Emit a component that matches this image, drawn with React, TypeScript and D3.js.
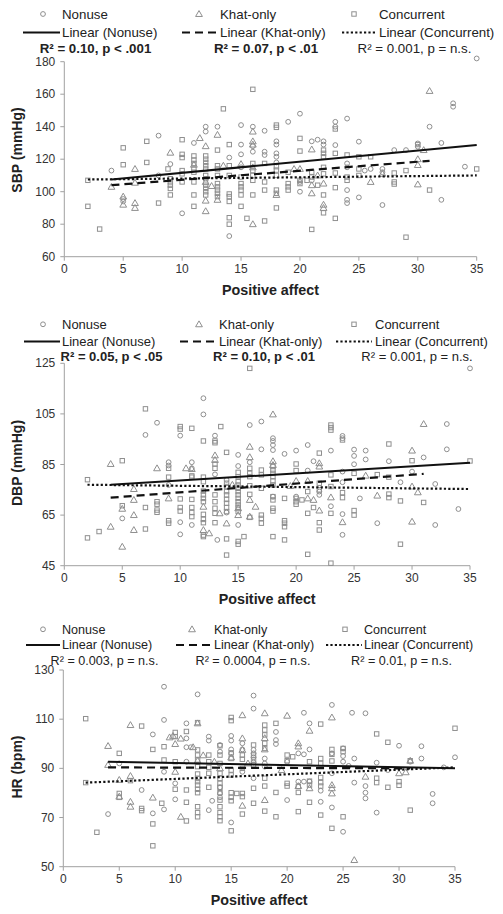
import React from 'react';
import * as d3 from 'd3';

type Pt = [number, number];

// ---------- shared axis / legend data ----------
const xTicks = [0, 5, 10, 15, 20, 25, 30, 35];
const sbpTicks = [60, 80, 100, 120, 140, 160, 180];
const dbpTicks = [45, 65, 85, 105, 125];
const hrTicks = [50, 70, 90, 110, 130];
const groupNames = ['Nonuse', 'Khat-only', 'Concurrent'];
const fitNames = ['Linear (Nonuse)', 'Linear (Khat-only)', 'Linear (Concurrent)'];
const sbpStats = ['R\u00B2 = 0.10, p < .001', 'R\u00B2 = 0.07, p < .01', 'R\u00B2 = 0.001, p = n.s.'];
const sbpStatBold = [true, true, false];
const dbpStats = ['R\u00B2 = 0.05, p < .05', 'R\u00B2 = 0.10, p < .01', 'R\u00B2 = 0.001, p = n.s.'];
const dbpStatBold = [true, true, false];
const hrStats = ['R\u00B2 = 0.003, p = n.s.', 'R\u00B2 = 0.0004, p = n.s.', 'R\u00B2 = 0.01, p = n.s.'];
const hrStatBold = [false, false, false];

// ---------- SBP ----------
const sbpNonuse: Pt[] = [[4,113],[5,95.5],[5,94],[8,134.5],[8,110],[9,117],[10,86.7],[11,130],[12,140],[12,137],[13,140],[14,121],[14,72.7],[15,141],[15,129],[15,123],[15,115],[16,140],[16,128],[16,124.6],[17,137.5],[17,124.6],[17,122.6],[18,131],[18,129],[18,123.6],[18,121.5],[18,118],[19,143],[20,148],[20,106],[20,100],[21,131],[21,107],[21.5,132],[22,131],[22,129],[23,143],[23,140],[23,128.7],[24,145],[24,117.4],[24,115],[24,101],[24,95],[24,93],[25,130.8],[25,96.5],[25.5,113],[26,114],[27,114],[27,112],[27,91.8],[28,125.6],[29,125.6],[30,129.7],[30,127.7],[31,140],[32,130],[32,95],[33,154.4],[33,152.3],[34,115.4],[35,182]];
const sbpKhat: Pt[] = [[4,103],[5,97],[5,92],[6,114],[6,105.5],[6,93],[6,90],[9,124],[11,116.6],[11.5,133],[12,128],[12,106],[12,94.5],[12,88],[12.5,103.5],[13,135],[13,95],[13.5,116],[15,117],[16,137],[16,131],[16,129],[16,115],[16,80],[18,98],[19.5,114],[20,114],[21,126],[21,104],[21,99],[21.5,110],[22,105],[22,92],[22,90],[26,106],[27,111],[30,120],[30,116.4],[30,104.5],[30.5,125.6],[31,162]];
const sbpConcurrent: Pt[] = [[2,107],[2,91],[3,77],[5,127],[5,116.6],[7,131],[7,118],[8,93],[8.8,114],[9,108],[9,106],[9,104],[9,102],[9,98],[10,132],[10,123],[10,121],[10,113],[10,111],[10,106],[11,122],[11,119.5],[11,117.4],[11,114],[11,112],[11,106],[11,98],[11,91],[12,122],[12,120],[12,118],[12,116],[12,114],[12,110],[12,108],[12,104],[12,102],[12,100],[12,98],[13,125.6],[13,116],[13,114],[13,110],[13,105],[13,103],[13,101],[13,99],[13,97],[13.5,151],[14,129],[14,116],[14,110],[14,98.6],[14,97],[14,94],[14,84],[14,80],[15,109],[15,105],[15,103],[15,101],[15,98],[15,91],[15.5,83.6],[16,163],[16,117.4],[16,113],[16,110],[16,107],[16,98],[17,117.4],[17,106],[17,101],[17,82],[18,141],[18,139.6],[18,115.4],[18,113.3],[18,110],[18,101],[18,99],[18,90],[19,112],[19,105],[19,103],[19,101],[20,132.8],[20,125],[20,107],[20,105],[20.6,107],[21,112],[21,109],[21,76.8],[21.5,104],[22,125.6],[22,123.6],[22,121.5],[22,115],[22,111],[22,98],[22,87],[23,138.6],[23,123.6],[23,111.5],[23,102.5],[23,83.6],[24,122.6],[24,109],[24,107],[25,121.5],[25,114],[25,110],[26,121.5],[28,111.5],[28,106],[28,104.7],[29,113],[29,72],[30,129],[31,101],[35,114]];
const sbpFitNonuse: Pt[] = [[4,107.5],[35,128.7]];
const sbpFitKhat: Pt[] = [[4,104],[31,119]];
const sbpFitConcurrent: Pt[] = [[2,107.5],[35,110]];

// ---------- DBP ----------
const dbpNonuse: Pt[] = [[5,63.7],[7,96.7],[8,101.5],[9,85.9],[9,84.6],[9,76.9],[10,96.4],[10,62.2],[10,57.4],[11,85.9],[11,83.5],[11,61.1],[12,111.2],[12,104.8],[13,96.4],[13,81.1],[13.2,55.2],[14,78.9],[14,66],[15,88.8],[15,84.4],[15,61.1],[16,100.6],[16,85.9],[17,102],[17,91],[18,95.4],[18,94.3],[18,92.7],[18,90.7],[18,72.3],[19,89.2],[20,90.5],[20,72.3],[21,92.7],[21,82.6],[21.5,86.3],[22,74.3],[22,73],[23,90.5],[23,68.5],[24,96.3],[24,95.4],[24,82.2],[24,78],[24,65.4],[24,57.2],[25,90.9],[25,88.4],[25,85.1],[25.5,71.6],[26,90.5],[26,87],[27,61.8],[28,86.3],[29,78],[30,82.2],[31,87.8],[32,77.3],[32,61.1],[33,101],[33,91],[34,67.4],[35,123]];
const dbpKhat: Pt[] = [[4,85.2],[4,60.4],[5,67.5],[5,52.5],[6,75.3],[6,71],[6,65],[6,59.1],[8,83.5],[9,71.6],[10.5,83.5],[11,83.2],[12,68.3],[12,59.1],[12.5,57.8],[13,88.6],[13,86.8],[13.4,65.7],[14,61.7],[14.5,77],[15,67.7],[15,65],[16,92],[16,87.9],[16,71],[16,64.4],[16.5,68.3],[18,104.8],[18,86.3],[18,84.8],[19.5,76.5],[20,78.5],[21,78.5],[21,71.6],[21.5,71],[22,85.5],[22,84.2],[22,66.8],[23,72],[24,62.2],[26,80.6],[27,72.7],[30,90.5],[30,76.3],[30.5,74],[30,62.4],[31,101]];
const dbpConcurrent: Pt[] = [[2,79],[2,56],[3,58.5],[5,86.5],[5,68.7],[7,107],[7,68],[7,59.5],[8,70.3],[8,69.3],[8,67],[8,66.1],[9,83.5],[9,80],[9,62.8],[9,61.8],[10,100],[10,99],[10,71.4],[10,68],[10,66.6],[11,99.3],[11,80.5],[11,80],[11,71.2],[11,68],[11,66],[11,64.4],[12,94.3],[12,80],[12,78.2],[12,74.5],[12,73],[12,71.6],[12,70.3],[12,65.3],[12,63.3],[12,62],[12,57.1],[12,56.5],[13,94.3],[13,93.6],[13,85.2],[13,83.5],[13,73],[13,70.3],[13,67.7],[13,65.7],[13,62],[13.5,100],[14,89.8],[14,77.6],[14,76.3],[14,74.3],[14,73],[14,71.2],[14,69.7],[14,68],[14,66.4],[14,55.6],[14,49.2],[15,81.9],[15,80.2],[15,78.2],[15,76.9],[15,75.6],[15,74.3],[15,73],[15,71.6],[15,70.3],[15,69],[15,68],[15,66.4],[15,54.6],[15,53.5],[15.5,56.5],[16,123],[16,83.5],[16,81.5],[16,80.2],[16,76.6],[16,73.2],[16,64.1],[17,82.8],[17,80.9],[17,75.6],[17,65],[17,63.7],[17,61.8],[18,84.2],[18,82.8],[18,81.5],[18,80.2],[18,78.5],[18,76.9],[18,72.3],[18,71],[18,67.7],[18,66.6],[18,56.5],[19,71.6],[19,62.8],[19,61.8],[19,60.4],[19,55.2],[20,85.2],[20,82.6],[20,71.6],[20,70.3],[20,69.3],[20.5,71],[21,74.3],[21,65.7],[21,49.5],[21.5,68],[22,89.5],[22,77.6],[22,75],[22,62],[22,59.1],[23,100.6],[23,99.6],[23,98.6],[23,80.9],[23,76.3],[23,65.7],[23,46],[24,94.7],[24,73.9],[24,71.9],[25,81.5],[25,66.8],[25,65],[27,81],[28,93.1],[28,80],[28,73.3],[28,71.9],[29,70.6],[29,53.5],[30,86.5],[31,70],[35,86.4]];
const dbpFitNonuse: Pt[] = [[4,77],[35,85.7]];
const dbpFitKhat: Pt[] = [[4,71.9],[31,81.3]];
const dbpFitConcurrent: Pt[] = [[2,77],[35,75.3]];

// ---------- HR ----------
const hrNonuse: Pt[] = [[4,71.4],[5,92],[7,81.2],[8,103.8],[8,71.7],[9,123.2],[9,109.7],[9,88.6],[9,73.3],[10,83.9],[10,77.4],[11,108.3],[11,102.2],[11,98.6],[11,92.7],[11.4,98.6],[12,120.1],[13,102.9],[13,101.3],[13,73],[13.3,76.8],[14,99.5],[14,96.8],[14,82.3],[14,79.8],[14,78.2],[15,103.2],[15,101.3],[15,97.7],[15,96.1],[15,68],[16,100.2],[16,97.7],[16,88.6],[17,119.6],[17,114.3],[17,97.5],[17,96.1],[17,94.5],[17,92.4],[17,86],[18,94],[18,92],[18,90.7],[19,104.8],[19,101.5],[19,99.9],[20,92.7],[20,77.1],[21,96.1],[21,84.6],[21.5,112.6],[21.5,95.7],[21.5,84.6],[22,108.3],[22,97.7],[22,84.6],[23,80.9],[23,76.4],[24,115.8],[24,96.1],[24,88],[24,74.1],[25,98.1],[25,95],[25,92.7],[25,64.2],[25.5,91],[25.8,112.6],[26,94],[26,84.2],[27,112.4],[27,82.8],[27,80.1],[27,77.8],[28,92.3],[28,72],[29,89.3],[30,99.2],[31,92.7],[32,99],[32,94],[33,79.6],[33,75.8],[34,90.4],[35,94.5]];
const hrKhat: Pt[] = [[4,99.1],[4,91.4],[5,85.3],[5,78.5],[6,107.6],[6,86.9],[6,76.4],[6,74.4],[8,78.1],[9.5,102.6],[9.8,103.2],[10,99.9],[10,88.6],[10.5,102.1],[10.5,70.3],[11.6,98.6],[12,108.3],[12,93.1],[12.5,95.3],[13.5,92.7],[14,90],[15,94.4],[16,111.6],[16,102.2],[16,97.5],[16,74.8],[16.5,92],[18,112.4],[18,102.3],[18,97.7],[18,77.1],[19.5,89.3],[20,111.4],[21,100.2],[21,98.9],[21,82.8],[22,105.3],[22,81.9],[24,110.7],[24,83.2],[24,81.9],[24,79.8],[26,52.7],[27,86.6],[30,88],[30.6,88.4],[31,93.1]];
const hrConcurrent: Pt[] = [[2,110.2],[2,84.2],[3,64],[5,96.1],[5,79.8],[5,78.2],[6,85],[7,107.2],[7,73.7],[7,72.8],[8,97.7],[8,67.4],[8,58.5],[8.8,75.8],[9,98.8],[9,93.4],[10,104.6],[10,102.9],[10,92.7],[10,81.5],[11,105],[11,81.2],[11,76.2],[11,68.6],[12,108.6],[12,97.5],[12,95.4],[12,93.4],[12,90.7],[12,87.7],[12,85.9],[12,84.6],[12,83.2],[12,81.5],[12,80.1],[12,74.4],[12,72],[12,70.3],[13,95.4],[13,92.7],[13,90.4],[13,88],[13,82.3],[14,99.2],[14,95.4],[14,92],[14,88],[14,85.9],[14,83.9],[14,82.3],[14,80.1],[14,77.1],[14,74.4],[14,72],[14,70.3],[14,68.7],[15,110.7],[15,109.4],[15,96.3],[15,94],[15,89.3],[15,87.3],[15,80.1],[15,78.2],[15,76.8],[15,64.6],[15.5,79.8],[16,95.4],[16,93.7],[16,90],[16,79.8],[16,78.5],[16,71.4],[17,99.5],[17,95.4],[17,93.4],[17,91.4],[17,81.9],[17,75.8],[18,107.6],[18,105.6],[18,103.6],[18,100.2],[18,98.1],[18,86],[18,82.8],[18,72.6],[19,108.3],[19,80.2],[19,70.3],[20,95.4],[20,93.1],[20,83.9],[20,82.8],[20.5,94.7],[21,82.6],[21,80.2],[21,72.4],[22,92.7],[22,84.8],[22,83.2],[22,76.2],[23,108],[23,94],[23,92],[23,86.3],[23,84.2],[23,82.8],[23,71],[24,97.7],[24,95.7],[24,93],[24,65.6],[25,98.1],[25,96.8],[25,70.3],[28,104],[28,86],[28,84.2],[29,100.6],[29,82.3],[30,84.6],[30,83.1],[31,93.1],[31,73],[35,106.3]];
const hrFitNonuse: Pt[] = [[4,92.7],[35,90]];
const hrFitKhat: Pt[] = [[4,90.4],[31,90]];
const hrFitConcurrent: Pt[] = [[2,84.2],[35,90.4]];

// ---------- layout (positions / styles) ----------
const FONT = '"Liberation Sans", Arial, Helvetica, sans-serif';
const MARKER = '#8f8f8f';
const AXIS = '#a0a0a0';
const TEXT = '#222';

interface Layout {
  left: number; right: number; top: number; bottom: number;
  rows: number[]; markerX: number[]; textX: number[]; sample: number[][]; statX: number[];
  font: number; yLabelY: number;
}

const layouts: Layout[] = [
  { left: 64.3, right: 476.7, top: 61.7, bottom: 256.7, rows: [14, 32.5, 48],
    markerX: [43, 199, 354], textX: [62, 220, 379], sample: [[23, 60], [182, 218], [342, 377]],
    statX: [95.5, 266, 414.5], font: 13.3, yLabelY: 150 },
  { left: 64.3, right: 470, top: 363.3, bottom: 565.7, rows: [324.3, 341.5, 356],
    markerX: [43, 199, 354], textX: [62, 219, 375], sample: [[24, 60], [180, 217], [336, 372]],
    statX: [111.5, 264, 417], font: 13.0, yLabelY: 463 },
  { left: 63.3, right: 455, top: 670, bottom: 866.7, rows: [629.3, 645, 660.7],
    markerX: [43, 192, 345], textX: [62, 214, 364], sample: [[26, 60], [176, 211], [326, 362]],
    statX: [104.5, 253, 401.5], font: 12.6, yLabelY: 767 },
];

const lineDash = [undefined, '8,5', '2.2,2.2'];
const lineWidth = [2, 2.2, 2.2];

const symTri = d3.symbol().type(d3.symbolTriangle).size(20)() as string;

function Marker({ kind, x, y }: { kind: number; x: number; y: number }) {
  if (kind === 0) return <circle cx={x} cy={y} r={2.4} fill="none" stroke={MARKER} strokeWidth={1} />;
  if (kind === 1) return <path d={symTri} transform={`translate(${x},${y + 0.5})`} fill="none" stroke={MARKER} strokeWidth={1} />;
  return <rect x={x - 2.2} y={y - 2.2} width={4.4} height={4.4} fill="none" stroke={MARKER} strokeWidth={1} />;
}

interface PanelProps {
  layout: Layout; yDomain: [number, number]; yTicks: number[]; yLabel: string;
  groups: Pt[][]; fits: Pt[][]; stats: string[]; statBold: boolean[];
}

function Panel({ layout, yDomain, yTicks, yLabel, groups, fits, stats, statBold }: PanelProps) {
  const x = d3.scaleLinear().domain([0, 35]).range([layout.left, layout.right]);
  const y = d3.scaleLinear().domain(yDomain).range([layout.bottom, layout.top]);
  const line = d3.line<Pt>().x(d => x(d[0])).y(d => y(d[1]));
  const [r1, r2, r3] = layout.rows;
  return (
    <g fontFamily={FONT}>
      {/* legend */}
      {groupNames.map((g, i) => (
        <g key={'l' + i}>
          <Marker kind={i} x={layout.markerX[i]} y={r1} />
          <text x={layout.textX[i]} y={r1} dy="0.35em" fontSize={layout.font} fill={TEXT}>{g}</text>
          <line x1={layout.sample[i][0]} x2={layout.sample[i][1]} y1={r2} y2={r2} stroke="#111"
            strokeWidth={lineWidth[i]} strokeDasharray={lineDash[i]} />
          <text x={layout.textX[i]} y={r2} dy="0.35em" fontSize={layout.font} fill={TEXT}>{fitNames[i]}</text>
          <text x={layout.statX[i]} y={r3} dy="0.35em" fontSize={layout.font} textAnchor="middle"
            fontWeight={statBold[i] ? 'bold' : 'normal'} fill={TEXT}>{stats[i]}</text>
        </g>
      ))}
      {/* axes */}
      <line x1={layout.left} x2={layout.left} y1={layout.top} y2={layout.bottom} stroke={AXIS} strokeWidth={1} />
      <line x1={layout.left} x2={layout.right} y1={layout.bottom} y2={layout.bottom} stroke={AXIS} strokeWidth={1} />
      {yTicks.map(t => (
        <g key={'y' + t}>
          <line x1={layout.left - 4} x2={layout.left} y1={y(t)} y2={y(t)} stroke={AXIS} />
          <text x={layout.left - 9} y={y(t)} dy="0.34em" textAnchor="end" fontSize={12} fill="#333">{t}</text>
        </g>
      ))}
      {xTicks.map(t => (
        <g key={'x' + t}>
          <line x1={x(t)} x2={x(t)} y1={layout.bottom} y2={layout.bottom + 4} stroke={AXIS} />
          <text x={x(t)} y={layout.bottom + 8} dy="0.71em" textAnchor="middle" fontSize={12} fill="#333">{t}</text>
        </g>
      ))}
      <text x={(layout.left + layout.right) / 2} y={layout.bottom + 38} textAnchor="middle" fontSize={14.3}
        fontWeight="bold" fill={TEXT}>Positive affect</text>
      <text transform={`translate(17,${layout.yLabelY}) rotate(-90)`} textAnchor="middle" dy="0.35em"
        fontSize={14} fontWeight="bold" fill={TEXT}>{yLabel}</text>
      {/* points */}
      {groups.map((pts, gi) => (
        <g key={'g' + gi}>
          {pts.map((p, k) => <Marker key={k} kind={gi} x={x(p[0])} y={y(p[1])} />)}
        </g>
      ))}
      {/* fit lines */}
      {fits.map((f, i) => (
        <path key={'f' + i} d={line(f) as string} fill="none" stroke="#111" strokeWidth={lineWidth[i]}
          strokeDasharray={lineDash[i]} />
      ))}
    </g>
  );
}

export default function App() {
  return (
    <svg width={503} height={914} style={{ position: 'absolute', left: 0, top: 0, background: '#fff' }}>
      <rect width={503} height={914} fill="#fff" />
      <Panel layout={layouts[0]} yDomain={[60, 180]} yTicks={sbpTicks} yLabel="SBP (mmHg)"
        groups={[sbpNonuse, sbpKhat, sbpConcurrent]} fits={[sbpFitNonuse, sbpFitKhat, sbpFitConcurrent]}
        stats={sbpStats} statBold={sbpStatBold} />
      <Panel layout={layouts[1]} yDomain={[45, 125]} yTicks={dbpTicks} yLabel="DBP (mmHg)"
        groups={[dbpNonuse, dbpKhat, dbpConcurrent]} fits={[dbpFitNonuse, dbpFitKhat, dbpFitConcurrent]}
        stats={dbpStats} statBold={dbpStatBold} />
      <Panel layout={layouts[2]} yDomain={[50, 130]} yTicks={hrTicks} yLabel="HR (bpm)"
        groups={[hrNonuse, hrKhat, hrConcurrent]} fits={[hrFitNonuse, hrFitKhat, hrFitConcurrent]}
        stats={hrStats} statBold={hrStatBold} />
    </svg>
  );
}
